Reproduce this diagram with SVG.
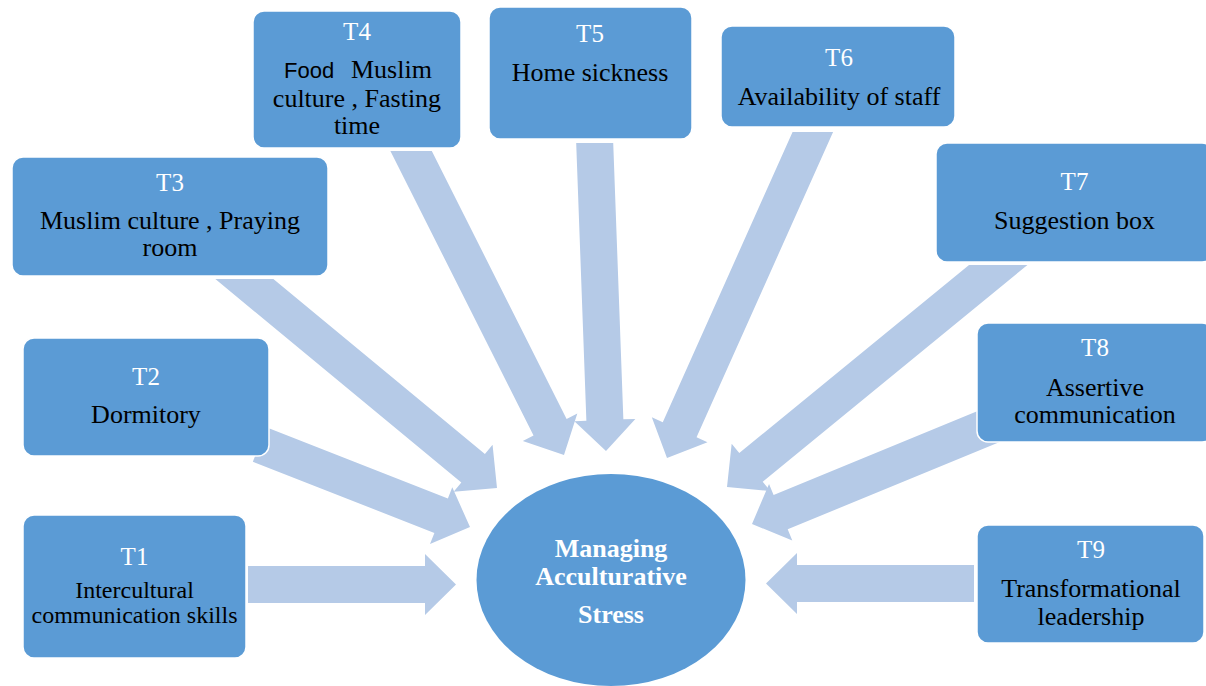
<svg xmlns="http://www.w3.org/2000/svg" width="1206" height="686" viewBox="0 0 1206 686">
  <style>
    .arrow { fill: #B5CAE7; }
    .box { fill: #5B9BD5; stroke: #FFFFFF; stroke-width: 1.5; }
    .tag { font-family: "Liberation Serif", "Times New Roman", serif; font-size: 25px; fill: #FFFFFF; text-anchor: middle; }
    .txt { font-family: "Liberation Serif", "Times New Roman", serif; font-size: 26px; fill: #000000; text-anchor: middle; }
    .small { font-size: 24px; }
    .sans { font-family: "Liberation Sans", Arial, sans-serif; font-size: 22px; }
    .hub { font-family: "Liberation Serif", "Times New Roman", serif; font-size: 26px; font-weight: bold; fill: #FFFFFF; text-anchor: middle; }
  </style>
  <defs>
    <clipPath id="cut3" clipPathUnits="userSpaceOnUse"><rect x="0" y="279" width="1206" height="407"/></clipPath>
    <clipPath id="cut4" clipPathUnits="userSpaceOnUse"><rect x="0" y="151" width="1206" height="535"/></clipPath>
    <clipPath id="cut5" clipPathUnits="userSpaceOnUse"><rect x="0" y="143" width="1206" height="543"/></clipPath>
    <clipPath id="cut6" clipPathUnits="userSpaceOnUse"><rect x="0" y="132" width="1206" height="554"/></clipPath>
    <clipPath id="cut7" clipPathUnits="userSpaceOnUse"><rect x="0" y="265" width="1206" height="421"/></clipPath>
  </defs>

  <rect width="1206" height="686" fill="#FFFFFF"/>

  <!-- block arrows pointing at the central ellipse; tip at local origin, pointing +x -->
  <g id="connectors">
    <path class="arrow" transform="translate(456,584.5)" d="M0,0 L-31,-30.5 L-31,-18.5 L-208,-18.5 L-208,18.5 L-31,18.5 L-31,30.5 Z"/>
    <path class="arrow" transform="translate(470,527) rotate(21.4)" d="M0,0 L-31,-30.5 L-31,-18.5 L-226,-18.5 L-226,18.5 L-31,18.5 L-31,30.5 Z"/>
    <g clip-path="url(#cut3)">
      <path class="arrow" transform="translate(497,488) rotate(39.6)" d="M0,0 L-31,-30.5 L-31,-18.5 L-360,-18.5 L-360,18.5 L-31,18.5 L-31,30.5 Z"/>
    </g>
    <g clip-path="url(#cut4)">
      <path class="arrow" transform="translate(564,455) rotate(63.3)" d="M0,0 L-31,-30.5 L-31,-18.5 L-360,-18.5 L-360,18.5 L-31,18.5 L-31,30.5 Z"/>
    </g>
    <g clip-path="url(#cut5)">
      <path class="arrow" transform="translate(606,451) rotate(87.9)" d="M0,0 L-31,-30.5 L-31,-18.5 L-330,-18.5 L-330,18.5 L-31,18.5 L-31,30.5 Z"/>
    </g>
    <g clip-path="url(#cut6)">
      <path class="arrow" transform="translate(667,458) rotate(114.1)" d="M0,0 L-31,-30.5 L-31,-18.5 L-380,-18.5 L-380,18.5 L-31,18.5 L-31,30.5 Z"/>
    </g>
    <g clip-path="url(#cut7)">
      <path class="arrow" transform="translate(727,487) rotate(140.7)" d="M0,0 L-31,-30.5 L-31,-18.5 L-380,-18.5 L-380,18.5 L-31,18.5 L-31,30.5 Z"/>
    </g>
    <path class="arrow" transform="translate(752,524) rotate(157.6)" d="M0,0 L-31,-30.5 L-31,-18.5 L-280,-18.5 L-280,18.5 L-31,18.5 L-31,30.5 Z"/>
    <path class="arrow" transform="translate(766,583.5) rotate(180)" d="M0,0 L-31,-30.5 L-31,-18.5 L-208,-18.5 L-208,18.5 L-31,18.5 L-31,30.5 Z"/>
  </g>

  <g id="hub">
    <ellipse cx="611" cy="580" rx="134.5" ry="106" fill="#5B9BD5"/>
    <text class="hub" x="611" y="557">Managing</text>
    <text class="hub" x="611" y="585">Acculturative</text>
    <text class="hub" x="611" y="623">Stress</text>
  </g>

  <g id="t1">
    <rect class="box" x="23" y="515" width="223" height="143" rx="11"/>
    <text class="tag" x="134.5" y="565">T1</text>
    <text class="txt small" x="134.5" y="598">Intercultural</text>
    <text class="txt small" x="134.5" y="623">communication skills</text>
  </g>

  <g id="t2">
    <rect class="box" x="23" y="338" width="246" height="118" rx="11"/>
    <text class="tag" x="146" y="385">T2</text>
    <text class="txt" x="146" y="423">Dormitory</text>
  </g>

  <g id="t3">
    <rect class="box" x="12" y="157" width="316" height="119" rx="11"/>
    <text class="tag" x="170" y="191">T3</text>
    <text class="txt" x="170" y="229">Muslim culture , Praying</text>
    <text class="txt" x="170" y="256">room</text>
  </g>

  <g id="t4">
    <rect class="box" x="253" y="11" width="208" height="137" rx="11"/>
    <text class="tag" x="357" y="40">T4</text>
    <text class="txt" y="78" style="text-anchor:start"><tspan class="sans" x="284">Food</tspan><tspan x="351">Muslim</tspan></text>
    <text class="txt" x="357" y="107">culture , Fasting</text>
    <text class="txt" x="357" y="134">time</text>
  </g>

  <g id="t5">
    <rect class="box" x="489" y="7" width="203" height="132" rx="11"/>
    <text class="tag" x="590" y="42">T5</text>
    <text class="txt" x="590" y="81">Home sickness</text>
  </g>

  <g id="t6">
    <rect class="box" x="721" y="26" width="234" height="101" rx="11"/>
    <text class="tag" x="839" y="66">T6</text>
    <text class="txt" x="839" y="105">Availability of staff</text>
  </g>

  <g id="t7">
    <rect class="box" x="936" y="143" width="277" height="119" rx="11"/>
    <text class="tag" x="1074.5" y="190">T7</text>
    <text class="txt" x="1074.5" y="229">Suggestion box</text>
  </g>

  <g id="t8">
    <rect class="box" x="977" y="323" width="236" height="119" rx="11"/>
    <text class="tag" x="1095" y="356">T8</text>
    <text class="txt" x="1095" y="396">Assertive</text>
    <text class="txt" x="1095" y="423">communication</text>
  </g>

  <g id="t9">
    <rect class="box" x="977" y="525" width="227" height="118" rx="11"/>
    <text class="tag" x="1091" y="558">T9</text>
    <text class="txt" x="1091" y="597">Transformational</text>
    <text class="txt" x="1091" y="625">leadership</text>
  </g>
</svg>
